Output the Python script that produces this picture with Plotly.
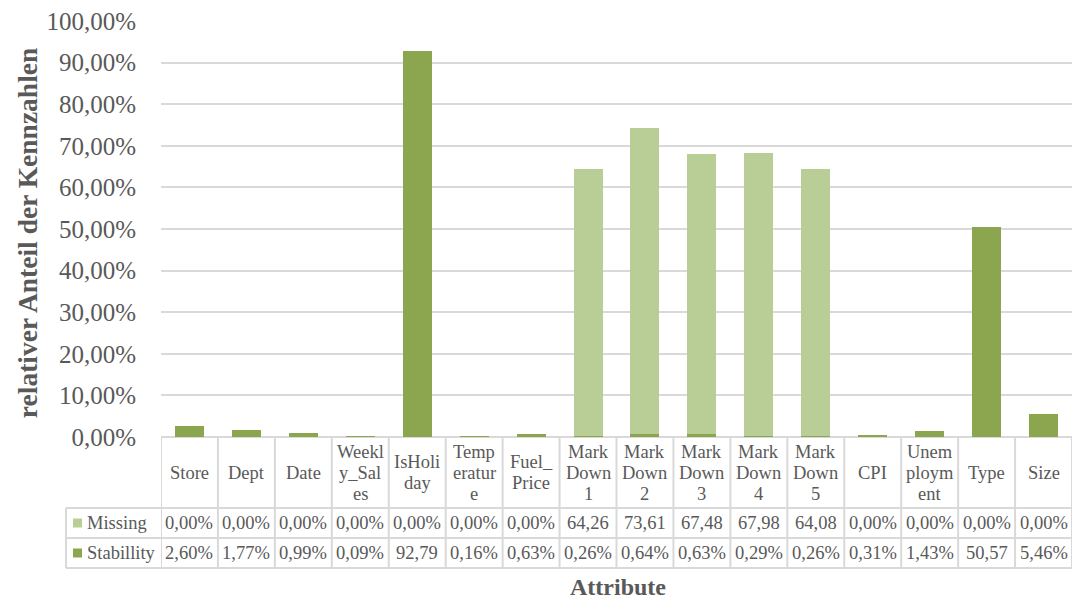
import plotly.graph_objects as go

# --- data -------------------------------------------------------------
categories = ["Store", "Dept", "Date", "Weekly_Sales", "IsHoliday", "Temperature",
              "Fuel_Price", "MarkDown1", "MarkDown2", "MarkDown3", "MarkDown4",
              "MarkDown5", "CPI", "Unemployment", "Type", "Size"]
header_labels = ["Store", "Dept", "Date", "Weekl<br>y_Sal<br>es", "IsHoli<br>day",
                 "Temp<br>eratur<br>e", "Fuel_<br>Price", "Mark<br>Down<br>1",
                 "Mark<br>Down<br>2", "Mark<br>Down<br>3", "Mark<br>Down<br>4",
                 "Mark<br>Down<br>5", "CPI", "Unem<br>ploym<br>ent", "Type", "Size"]
missing = [0.00, 0.00, 0.00, 0.00, 0.00, 0.00, 0.00, 64.26, 73.61, 67.48, 67.98,
           64.08, 0.00, 0.00, 0.00, 0.00]
stability = [2.60, 1.77, 0.99, 0.09, 92.79, 0.16, 0.63, 0.26, 0.64, 0.63, 0.29,
             0.26, 0.31, 1.43, 50.57, 5.46]
series_names = ["Missing", "Stabillity"]
y_ticks = [0, 10, 20, 30, 40, 50, 60, 70, 80, 90, 100]

# --- style ------------------------------------------------------------
C_MISSING = "#b9cd96"
C_STAB = "#8ba64e"
GRID = "#d9d9d9"
TXT = "#595959"
FONT = "Liberation Serif"

W, H = 1072, 601
M_L, M_R, M_T, M_B = 161, 0, 21, 164
PW = W - M_L - M_R
PH = H - M_T - M_B


def py(px_below_axis):
    """Pixels below the x axis -> paper y."""
    return -px_below_axis / PH


def px_x(px):
    """Absolute pixel x -> paper x."""
    return (px - M_L) / PW


def pct(v):
    return f"{v:.2f}".replace(".", ",") + "%"


def cell_text(v):
    # wide numbers are clipped in the narrow table cells (no % sign)
    s = f"{v:.2f}".replace(".", ",")
    return s if v >= 10 else s + "%"


fig = go.Figure()
x_idx = list(range(len(categories)))
fig.add_trace(go.Bar(x=x_idx, y=stability, name=series_names[1],
                     marker=dict(color=C_STAB, line=dict(width=0))))
fig.add_trace(go.Bar(x=x_idx, y=missing, name=series_names[0],
                     marker=dict(color=C_MISSING, line=dict(width=0))))

shapes = []
annotations = []

# table geometry (pixels below the axis)
ROW_HEAD = 71
ROW_1 = 101
ROW_2 = 131
LEG_LEFT = 66
n = len(categories)

line_style = dict(color=GRID, width=2)
# vertical column borders
for i in range(n + 1):
    shapes.append(dict(type="line", xref="x", yref="paper",
                       x0=i - 0.5, x1=i - 0.5, y0=0, y1=py(ROW_2), line=line_style))
# legend column left border
shapes.append(dict(type="line", xref="paper", yref="paper",
                   x0=px_x(LEG_LEFT), x1=px_x(LEG_LEFT),
                   y0=py(ROW_HEAD), y1=py(ROW_2), line=line_style))
# horizontal row borders
for d in (ROW_HEAD, ROW_1, ROW_2):
    shapes.append(dict(type="line", xref="paper", yref="paper",
                       x0=px_x(LEG_LEFT), x1=1, y0=py(d), y1=py(d), line=line_style))

# header cells, one annotation per wrapped line
LINE_H = 21
head_mid = ROW_HEAD / 2
for i, lab in enumerate(header_labels):
    parts = lab.split("<br>")
    k = len(parts)
    for j, part in enumerate(parts):
        off = head_mid + (j - (k - 1) / 2) * LINE_H
        annotations.append(dict(xref="x", yref="paper", x=i, y=py(off), text=part,
                                showarrow=False, xanchor="center", yanchor="middle",
                                font=dict(family=FONT, size=18.5, color=TXT)))

# value rows
rows = [(missing, (ROW_HEAD + ROW_1) / 2, C_MISSING, series_names[0]),
        (stability, (ROW_1 + ROW_2) / 2, C_STAB, series_names[1])]
for vals, mid, col, name in rows:
    for i, v in enumerate(vals):
        annotations.append(dict(xref="x", yref="paper", x=i, y=py(mid),
                                text=cell_text(v), showarrow=False,
                                xanchor="center", yanchor="middle",
                                font=dict(family=FONT, size=18.5, color=TXT)))
    # legend key
    shapes.append(dict(type="rect", xref="paper", yref="paper",
                       x0=px_x(73), x1=px_x(82), y0=py(mid - 4.5), y1=py(mid + 4.5),
                       fillcolor=col, line=dict(width=0)))
    annotations.append(dict(xref="paper", yref="paper", x=px_x(85), y=py(mid),
                            text=name, showarrow=False, xanchor="left",
                            yanchor="middle",
                            font=dict(family=FONT, size=18.5, color=TXT)))

# axis titles
annotations.append(dict(xref="paper", yref="paper", x=px_x(27), y=0.49,
                        text="<b>relativer Anteil der Kennzahlen</b>", textangle=-90,
                        showarrow=False, xanchor="center", yanchor="middle",
                        font=dict(family=FONT, size=27.5, color=TXT)))
annotations.append(dict(xref="paper", yref="paper", x=px_x(618), y=py(150),
                        text="<b>Attribute</b>", showarrow=False,
                        xanchor="center", yanchor="middle",
                        font=dict(family=FONT, size=24, color=TXT)))

fig.update_layout(
    width=W, height=H, autosize=False,
    margin=dict(l=M_L, r=M_R, t=M_T, b=M_B, pad=0),
    paper_bgcolor="white", plot_bgcolor="white",
    barmode="stack", bargap=0.49,
    showlegend=False,
    shapes=shapes, annotations=annotations,
    xaxis=dict(type="linear", range=[-0.5, n - 0.5], showticklabels=False,
               showgrid=False, zeroline=False, showline=False, fixedrange=True),
    yaxis=dict(range=[0, 100], tickmode="array", tickvals=y_ticks,
               ticktext=[pct(v) for v in y_ticks],
               showgrid=True, gridcolor=GRID, gridwidth=2,
               zeroline=True, zerolinecolor=GRID, zerolinewidth=2,
               showline=False, ticks="", ticklabelstandoff=24,
               tickfont=dict(family=FONT, size=25, color=TXT)),
)

fig.write_html("out.html")
